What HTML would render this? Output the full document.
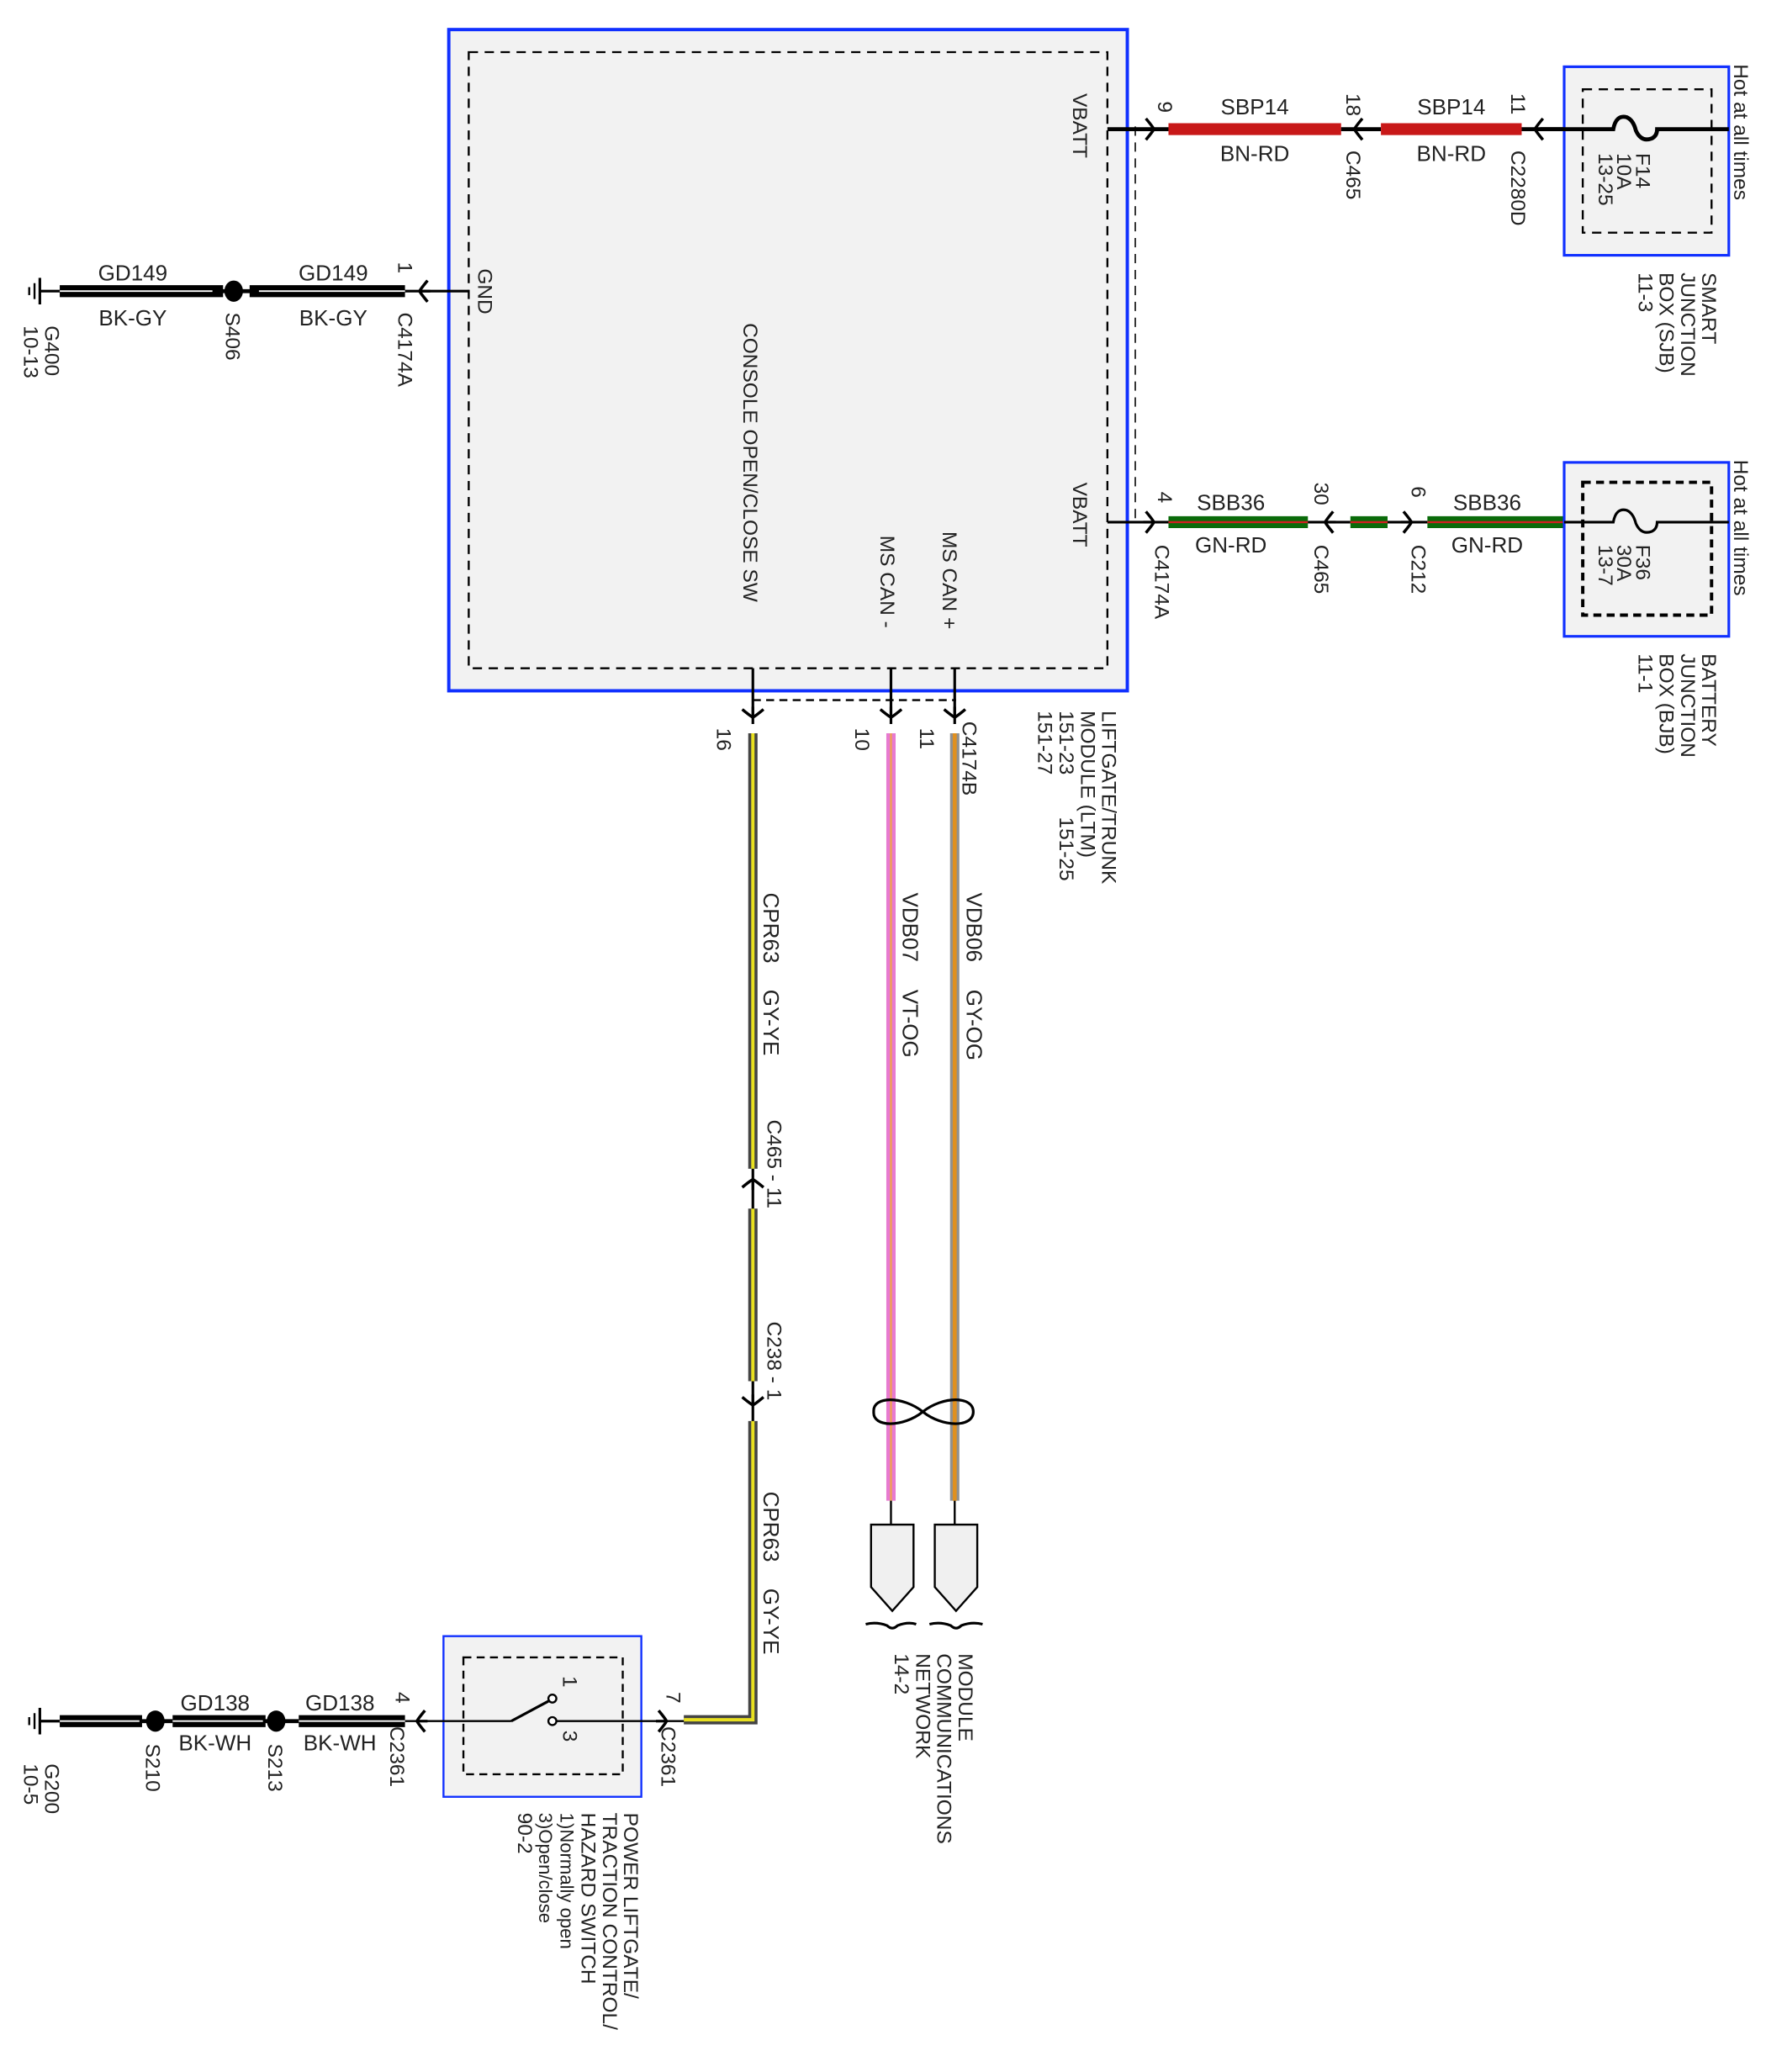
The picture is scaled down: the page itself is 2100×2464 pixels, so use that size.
<!DOCTYPE html>
<html><head><meta charset="utf-8"><style>
html,body{margin:0;padding:0;background:#fff;}
svg{display:block;}
text{font-family:"Liberation Sans",sans-serif;font-size:15.5px;fill:#222;}
.w{font-size:16.5px;}
</style></head><body>
<svg width="2100" height="2464" viewBox="0 0 1330 1560" xmlns="http://www.w3.org/2000/svg">
<defs>
<g id="chR"><path d="M-6,-8 Q-1,-2 0,0 Q-1,2 -6,8" fill="none" stroke="#000" stroke-width="2.2"/><line x1="-8" y1="0" x2="0" y2="0" stroke="#000" stroke-width="2"/></g>
</defs>
<rect x="338" y="22" width="511" height="498" fill="#f2f2f2" stroke="#1030ff" stroke-width="2.5"/>
<rect x="353" y="39" width="481" height="464" fill="none" stroke="#000" stroke-width="1.5" stroke-dasharray="7,5"/>
<line x1="855" y1="95" x2="855" y2="395" stroke="#000" stroke-width="1" stroke-dasharray="7,5"/>
<line x1="567" y1="527" x2="720" y2="527" stroke="#000" stroke-width="1.5" stroke-dasharray="6,4"/>
<g transform="rotate(90 360 202)"><text x="360" y="202">GND</text></g>
<g transform="rotate(90 560 243)"><text x="560" y="243">CONSOLE OPEN/CLOSE SW</text></g>
<g transform="rotate(90 663 403)"><text x="663" y="403">MS CAN -</text></g>
<g transform="rotate(90 710 400)"><text x="710" y="400">MS CAN +</text></g>
<g transform="rotate(90 808 70)"><text x="808" y="70">VBATT</text></g>
<g transform="rotate(90 808 363)"><text x="808" y="363">VBATT</text></g>

<line x1="834" y1="97" x2="880" y2="97" stroke="#000" stroke-width="3"/>
<use href="#chR" x="869" y="97"/>
<line x1="880" y1="97" x2="1010" y2="97" stroke="#c81818" stroke-width="9"/>
<line x1="1010" y1="97" x2="1040" y2="97" stroke="#000" stroke-width="3"/>
<use href="#chR" transform="translate(1020 97) scale(-1 1)"/>
<line x1="1040" y1="97" x2="1146" y2="97" stroke="#c81818" stroke-width="9"/>
<line x1="1146" y1="97" x2="1220" y2="97" stroke="#000" stroke-width="3"/>
<use href="#chR" transform="translate(1156 97) scale(-1 1)"/>
<text class="w" x="945" y="86" text-anchor="middle">SBP14</text><text class="w" x="945" y="121" text-anchor="middle">BN-RD</text>
<text class="w" x="1093" y="86" text-anchor="middle">SBP14</text><text class="w" x="1093" y="121" text-anchor="middle">BN-RD</text>
<g transform="rotate(90 872 76)"><text x="872" y="76">9</text></g>
<g transform="rotate(90 1014 70)"><text x="1014" y="70">18</text></g>
<g transform="rotate(90 1014 113)"><text x="1014" y="113">C465</text></g>
<g transform="rotate(90 1138 70)"><text x="1138" y="70">11</text></g>
<g transform="rotate(90 1138 113)"><text x="1138" y="113">C2280D</text></g>
<rect x="1178" y="50" width="124" height="142" fill="#f2f2f2" stroke="#1030ff" stroke-width="2"/>
<rect x="1192" y="67" width="97" height="108" fill="none" stroke="#000" stroke-width="1.5" stroke-dasharray="7,5"/>
<path d="M1160,97 H1215 Q1217,86 1225,88 Q1230,90 1232,98 Q1236,107 1244,104 Q1248,102 1248,97 H1302" fill="none" stroke="#000" stroke-width="3"/>
<g transform="rotate(90 1232 115)"><text x="1232" y="115">F14</text></g>
<g transform="rotate(90 1218 115)"><text x="1218" y="115">10A</text></g>
<g transform="rotate(90 1204 115)"><text x="1204" y="115">13-25</text></g>
<g transform="rotate(90 1306 48)"><text x="1306" y="48">Hot at all times</text></g>
<g transform="rotate(90 1282 205)"><text x="1282" y="205">SMART</text><text x="1282" y="221">JUNCTION</text><text x="1282" y="237">BOX (SJB)</text><text x="1282" y="253">11-3</text></g>

<line x1="834" y1="393" x2="880" y2="393" stroke="#000" stroke-width="2"/>
<use href="#chR" x="869" y="393"/>
<line x1="880" y1="393" x2="985" y2="393" stroke="#0a6b0a" stroke-width="9"/>
<line x1="880" y1="393" x2="985" y2="393" stroke="#d02020" stroke-width="1.5"/>
<line x1="985" y1="393" x2="1017" y2="393" stroke="#000" stroke-width="2"/>
<use href="#chR" transform="translate(998 393) scale(-1 1)"/>
<line x1="1017" y1="393" x2="1045" y2="393" stroke="#0a6b0a" stroke-width="9"/>
<line x1="1017" y1="393" x2="1045" y2="393" stroke="#d02020" stroke-width="1.5"/>
<line x1="1045" y1="393" x2="1075" y2="393" stroke="#000" stroke-width="2"/>
<use href="#chR" x="1063" y="393"/>
<line x1="1075" y1="393" x2="1178" y2="393" stroke="#0a6b0a" stroke-width="9"/>
<line x1="1075" y1="393" x2="1178" y2="393" stroke="#d02020" stroke-width="1.5"/>
<text class="w" x="927" y="384" text-anchor="middle">SBB36</text><text class="w" x="927" y="416" text-anchor="middle">GN-RD</text>
<text class="w" x="1120" y="384" text-anchor="middle">SBB36</text><text class="w" x="1120" y="416" text-anchor="middle">GN-RD</text>
<g transform="rotate(90 872 370)"><text x="872" y="370">4</text></g>
<g transform="rotate(90 870 410)"><text x="870" y="410">C4174A</text></g>
<g transform="rotate(90 990 363)"><text x="990" y="363">30</text></g>
<g transform="rotate(90 990 410)"><text x="990" y="410">C465</text></g>
<g transform="rotate(90 1063 366)"><text x="1063" y="366">6</text></g>
<g transform="rotate(90 1063 410)"><text x="1063" y="410">C212</text></g>
<rect x="1178" y="348" width="124" height="131" fill="#f2f2f2" stroke="#1030ff" stroke-width="2"/>
<rect x="1192" y="363" width="97" height="100" fill="none" stroke="#000" stroke-width="2.5" stroke-dasharray="6,4"/>
<path d="M1178,393 H1215 Q1217,382 1225,384 Q1230,386 1232,394 Q1236,403 1244,400 Q1248,398 1248,393 H1302" fill="none" stroke="#000" stroke-width="2"/>
<g transform="rotate(90 1232 410)"><text x="1232" y="410">F36</text></g>
<g transform="rotate(90 1218 410)"><text x="1218" y="410">30A</text></g>
<g transform="rotate(90 1204 410)"><text x="1204" y="410">13-7</text></g>
<g transform="rotate(90 1306 346)"><text x="1306" y="346">Hot at all times</text></g>
<g transform="rotate(90 1282 492)"><text x="1282" y="492">BATTERY</text><text x="1282" y="508">JUNCTION</text><text x="1282" y="524">BOX (BJB)</text><text x="1282" y="540">11-1</text></g>

<line x1="305" y1="219" x2="353" y2="219" stroke="#000" stroke-width="2"/>
<use href="#chR" transform="translate(316 219) scale(-1 1)"/>
<line x1="188" y1="219" x2="305" y2="219" stroke="#000" stroke-width="9"/>
<line x1="188" y1="219" x2="305" y2="219" stroke="#fff" stroke-width="1.2"/>
<line x1="45" y1="219" x2="168" y2="219" stroke="#000" stroke-width="9"/>
<line x1="45" y1="219" x2="168" y2="219" stroke="#fff" stroke-width="1.2"/>
<line x1="160" y1="219" x2="195" y2="219" stroke="#000" stroke-width="3"/>
<ellipse cx="176" cy="219" rx="7" ry="8" fill="#000"/>
<line x1="30" y1="219" x2="45" y2="219" stroke="#000" stroke-width="2"/>
<line x1="30" y1="209" x2="30" y2="229" stroke="#000" stroke-width="2"/>
<line x1="26" y1="213" x2="26" y2="225" stroke="#000" stroke-width="1.5"/>
<line x1="22" y1="216" x2="22" y2="222" stroke="#000" stroke-width="1.5"/>
<text class="w" x="100" y="211" text-anchor="middle">GD149</text><text class="w" x="100" y="245" text-anchor="middle">BK-GY</text>
<text class="w" x="251" y="211" text-anchor="middle">GD149</text><text class="w" x="251" y="245" text-anchor="middle">BK-GY</text>
<g transform="rotate(90 300 197)"><text x="300" y="197">1</text></g>
<g transform="rotate(90 300 235)"><text x="300" y="235">C4174A</text></g>
<g transform="rotate(90 170 235)"><text x="170" y="235">S406</text></g>
<g transform="rotate(90 34 245)"><text x="34" y="245">G400</text><text x="34" y="261">10-13</text></g>

<line x1="567" y1="503" x2="567" y2="545" stroke="#000" stroke-width="2"/>
<line x1="671" y1="503" x2="671" y2="545" stroke="#000" stroke-width="2"/>
<line x1="719" y1="503" x2="719" y2="545" stroke="#000" stroke-width="2"/>
<use href="#chR" transform="translate(567 540) rotate(90)"/>
<use href="#chR" transform="translate(671 540) rotate(90)"/>
<use href="#chR" transform="translate(719 540) rotate(90)"/>
<g stroke-width="7" fill="none">
<path d="M567,552 V880" stroke="#444"/><path d="M567,552 V880" stroke="#e8e020" stroke-width="2.5"/>
<path d="M567,910 V1040" stroke="#444"/><path d="M567,910 V1040" stroke="#e8e020" stroke-width="2.5"/>
<path d="M567,1070 V1295 H515" stroke="#444"/><path d="M567,1070 V1295 H515" stroke="#e8e020" stroke-width="2.5"/>
<path d="M671,552 V1130" stroke="#e77ad0"/><path d="M671,552 V1130" stroke="#f0a050" stroke-width="1.5"/>
<path d="M719,552 V1130" stroke="#909090"/><path d="M719,552 V1130" stroke="#e09020" stroke-width="3"/>
</g>
<line x1="567" y1="880" x2="567" y2="910" stroke="#000" stroke-width="2"/>
<use href="#chR" transform="translate(567 888) rotate(-90)"/>
<line x1="567" y1="1040" x2="567" y2="1070" stroke="#000" stroke-width="2"/>
<use href="#chR" transform="translate(567 1058) rotate(90)"/>
<g transform="rotate(90 540 548)"><text x="540" y="548">16</text></g>
<g transform="rotate(90 644 548)"><text x="644" y="548">10</text></g>
<g transform="rotate(90 693 548)"><text x="693" y="548">11</text></g>
<g transform="rotate(90 725 543)"><text x="725" y="543">C4174B</text></g>
<g transform="rotate(90 830 535)"><text x="830" y="535">LIFTGATE/TRUNK</text><text x="830" y="551">MODULE (LTM)</text><text x="830" y="567">151-23</text><text x="910" y="567">151-25</text><text x="830" y="583">151-27</text></g>
<g transform="rotate(90 575 672)"><text class="w" x="575" y="672">CPR63</text><text class="w" x="648" y="672">GY-YE</text></g>
<g transform="rotate(90 680 672)"><text class="w" x="680" y="672">VDB07</text><text class="w" x="753" y="672">VT-OG</text></g>
<g transform="rotate(90 728 672)"><text class="w" x="728" y="672">VDB06</text><text class="w" x="801" y="672">GY-OG</text></g>
<g transform="rotate(90 578 843)"><text x="578" y="843">C465 - 11</text></g>
<g transform="rotate(90 578 995)"><text x="578" y="995">C238 - 1</text></g>
<g transform="rotate(90 575 1123)"><text class="w" x="575" y="1123">CPR63</text><text class="w" x="648" y="1123">GY-YE</text></g>
<path d="M695,1063 C680,1051 657,1051 658,1063 C657,1075 680,1075 695,1063 C710,1051 733,1051 733,1063 C733,1075 710,1075 695,1063" fill="none" stroke="#000" stroke-width="2"/>
<line x1="671" y1="1130" x2="671" y2="1148" stroke="#000" stroke-width="1.5"/>
<line x1="719" y1="1130" x2="719" y2="1148" stroke="#000" stroke-width="1.5"/>
<path d="M656,1148 H688 V1195 L672,1213 L656,1195 Z" fill="#f0f0f0" stroke="#000" stroke-width="1.5"/>
<path d="M704,1148 H736 V1195 L720,1213 L704,1195 Z" fill="#f0f0f0" stroke="#000" stroke-width="1.5"/>
<path d="M652,1223 Q660,1221 668,1224 Q672,1228 676,1224 Q684,1221 690,1223 M700,1223 Q708,1221 716,1224 Q720,1228 724,1224 Q732,1221 740,1223" fill="none" stroke="#000" stroke-width="2"/>
<g transform="rotate(90 722 1245)"><text x="722" y="1245">MODULE</text><text x="722" y="1261">COMMUNICATIONS</text><text x="722" y="1277">NETWORK</text><text x="722" y="1293">14-2</text></g>

<rect x="334" y="1232" width="149" height="121" fill="#f2f2f2" stroke="#1030ff" stroke-width="1.5"/>
<rect x="349" y="1248" width="120" height="88" fill="none" stroke="#000" stroke-width="1.5" stroke-dasharray="6,4"/>
<line x1="305" y1="1296" x2="385" y2="1296" stroke="#000" stroke-width="1.5"/>
<line x1="385" y1="1296" x2="413" y2="1281" stroke="#000" stroke-width="2"/>
<circle cx="416" cy="1279" r="3" fill="#fff" stroke="#000" stroke-width="1.5"/>
<circle cx="416" cy="1296" r="3" fill="#fff" stroke="#000" stroke-width="1.5"/>
<line x1="419" y1="1296" x2="515" y2="1296" stroke="#000" stroke-width="1.5"/>
<use href="#chR" x="502" y="1296"/>
<use href="#chR" transform="translate(314 1296) scale(-1 1)"/>
<g transform="rotate(90 424 1262)"><text x="424" y="1262">1</text></g>
<g transform="rotate(90 424 1303)"><text x="424" y="1303">3</text></g>
<g transform="rotate(90 502 1274)"><text x="502" y="1274">7</text></g>
<g transform="rotate(90 498 1300)"><text x="498" y="1300">C2361</text></g>
<g transform="rotate(90 298 1274)"><text x="298" y="1274">4</text></g>
<g transform="rotate(90 294 1300)"><text x="294" y="1300">C2361</text></g>
<g transform="rotate(90 470 1365)"><text x="470" y="1365">POWER LIFTGATE/</text><text x="470" y="1381">TRACTION CONTROL/</text><text x="470" y="1397">HAZARD SWITCH</text><text x="470" y="1413" style="font-size:14px">1)Normally open</text><text x="470" y="1429" style="font-size:14px">3)Open/close</text><text x="470" y="1445">90-2</text></g>
<g>
<line x1="225" y1="1296" x2="305" y2="1296" stroke="#000" stroke-width="9"/><line x1="225" y1="1296" x2="305" y2="1296" stroke="#fff" stroke-width="1.2"/>
<line x1="130" y1="1296" x2="200" y2="1296" stroke="#000" stroke-width="9"/><line x1="130" y1="1296" x2="200" y2="1296" stroke="#fff" stroke-width="1.2"/>
<line x1="45" y1="1296" x2="107" y2="1296" stroke="#000" stroke-width="9"/><line x1="45" y1="1296" x2="107" y2="1296" stroke="#fff" stroke-width="1.2"/>
<line x1="105" y1="1296" x2="130" y2="1296" stroke="#000" stroke-width="3"/>
<line x1="198" y1="1296" x2="225" y2="1296" stroke="#000" stroke-width="3"/>
<ellipse cx="117" cy="1296" rx="7" ry="8" fill="#000"/>
<ellipse cx="208" cy="1296" rx="7" ry="8" fill="#000"/>
<line x1="30" y1="1296" x2="45" y2="1296" stroke="#000" stroke-width="2"/>
<line x1="30" y1="1286" x2="30" y2="1306" stroke="#000" stroke-width="2"/>
<line x1="26" y1="1290" x2="26" y2="1302" stroke="#000" stroke-width="1.5"/>
<line x1="22" y1="1293" x2="22" y2="1299" stroke="#000" stroke-width="1.5"/>
</g>
<text class="w" x="162" y="1288" text-anchor="middle">GD138</text><text class="w" x="162" y="1318" text-anchor="middle">BK-WH</text>
<text class="w" x="256" y="1288" text-anchor="middle">GD138</text><text class="w" x="256" y="1318" text-anchor="middle">BK-WH</text>
<g transform="rotate(90 110 1313)"><text x="110" y="1313">S210</text></g>
<g transform="rotate(90 202 1313)"><text x="202" y="1313">S213</text></g>
<g transform="rotate(90 34 1328)"><text x="34" y="1328">G200</text><text x="34" y="1344">10-5</text></g>
</svg>
</body></html>
